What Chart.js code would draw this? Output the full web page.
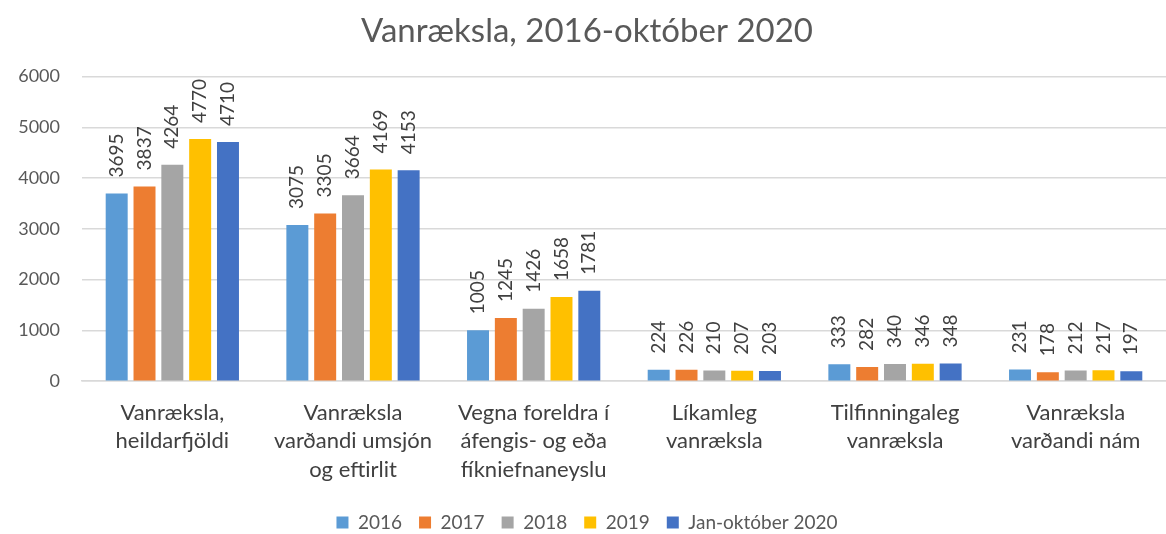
<!DOCTYPE html>
<html>
<head>
<meta charset="utf-8">
<script src="https://cdn.jsdelivr.net/npm/chart.js@4/dist/chart.umd.min.js"></script>
<style>
  html, body { margin: 0; padding: 0; background: #fff; }
  #wrap { width: 1166px; height: 534px; position: relative; }
</style>
</head>
<body>
<div id="wrap"><canvas id="chart"></canvas></div>
<script>
const categories = [
  ['Vanræksla,', 'heildarfjöldi'],
  ['Vanræksla', 'varðandi umsjón', 'og eftirlit'],
  ['Vegna foreldra í', 'áfengis- og eða', 'fíkniefnaneyslu'],
  ['Líkamleg', 'vanræksla'],
  ['Tilfinningaleg', 'vanræksla'],
  ['Vanræksla', 'varðandi nám']
];
const seriesNames = ['2016', '2017', '2018', '2019', 'Jan-október 2020'];
const v2016 = [3695, 3075, 1005, 224, 333, 231];
const v2017 = [3837, 3305, 1245, 226, 282, 178];
const v2018 = [4264, 3664, 1426, 210, 340, 212];
const v2019 = [4770, 4169, 1658, 207, 346, 217];
const v2020 = [4710, 4153, 1781, 203, 348, 197];
const yTicks = [0, 1000, 2000, 3000, 4000, 5000, 6000];

const colors = ['#5B9BD5', '#ED7D31', '#A5A5A5', '#FFC000', '#4472C4'];
const allValues = [v2016, v2017, v2018, v2019, v2020];
const FONT = 'Lato, "Liberation Sans", sans-serif';

// rotated value labels above each bar
const barLabels = {
  id: 'barLabels',
  afterDatasetsDraw(chart) {
    const ctx = chart.ctx;
    ctx.save();
    ctx.font = '19px ' + FONT;
    ctx.fillStyle = '#404040';
    ctx.textAlign = 'left';
    ctx.textBaseline = 'middle';
    chart.data.datasets.forEach((ds, i) => {
      chart.getDatasetMeta(i).data.forEach((bar, j) => {
        ctx.save();
        ctx.translate(bar.x, bar.y - 16);
        ctx.rotate(-Math.PI / 2);
        ctx.fillText(String(ds.data[j]), 0, 0);
        ctx.restore();
      });
    });
    ctx.restore();
  }
};

new Chart(document.getElementById('chart'), {
  type: 'bar',
  data: {
    labels: categories,
    datasets: seriesNames.map((name, i) => ({
      label: name,
      data: allValues[i],
      backgroundColor: colors[i],
      borderWidth: 0,
      categoryPercentage: 0.77,
      barPercentage: 0.79
    }))
  },
  options: {
    responsive: true,
    maintainAspectRatio: false,
    animation: false,
    layout: { padding: { left: 8, right: 0, top: 0, bottom: -8 } },
    plugins: {
      title: {
        display: true,
        text: 'Vanræksla, 2016-október 2020',
        color: '#595959',
        font: { family: FONT, size: 33, weight: 'normal' },
        padding: { top: 12, bottom: 25 }
      },
      legend: {
        position: 'bottom',
        labels: {
          color: '#595959',
          font: { family: FONT, size: 19 },
          boxWidth: 12,
          boxHeight: 12,
          padding: 17
        }
      },
      tooltip: { enabled: false }
    },
    scales: {
      x: {
        grid: { display: false, drawTicks: false },
        border: { color: '#d9d9d9', width: 1.5 },
        afterFit(axis) { axis.height -= 5; axis.paddingLeft = 0; axis.paddingRight = 0; },
        ticks: {
          color: '#404040',
          font: { family: FONT, size: 22, lineHeight: 1.3 },
          maxRotation: 0,
          autoSkip: false,
          padding: 17
        }
      },
      y: {
        min: 0,
        max: 6000,
        afterBuildTicks(axis) { axis.ticks = yTicks.map(v => ({ value: v })); },
        afterFit(axis) { axis.width = 74; },
        grid: { color: '#d9d9d9', lineWidth: 1.5, drawTicks: false },
        border: { display: false },
        ticks: {
          color: '#595959',
          font: { family: FONT, size: 18 },
          padding: 22,
          callback: v => String(v)
        }
      }
    }
  },
  plugins: [barLabels]
});
</script>
</body>
</html>
